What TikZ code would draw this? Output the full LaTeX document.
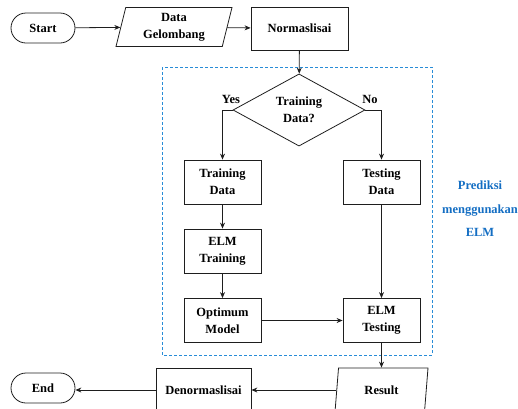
\documentclass[tikz,border=0pt]{standalone}
\usepackage{fontspec}
\setmainfont{Liberation Serif}[BoldFont={Liberation Serif Bold}]
\newfontfamily\tnr{Liberation Serif}[BoldFont={Liberation Serif Bold}]
\usetikzlibrary{shapes.geometric,arrows.meta}
\definecolor{lineblk}{RGB}{30,30,30}
\definecolor{dashblue}{RGB}{40,140,215}
\definecolor{textblue}{RGB}{20,110,195}
\tikzset{
  base/.style={draw=lineblk, line width=0.8pt, font=\tnr\fontsize{12.5}{17}\selectfont\bfseries, align=center, inner sep=1pt},
  procbox/.style={base, rectangle, minimum width=77pt, minimum height=44pt},
  termbox/.style={base, rectangle, rounded corners=15pt, minimum width=64pt, minimum height=30pt},
  iobox/.style={base, trapezium, trapezium left angle=72, trapezium right angle=108, trapezium stretches body, minimum height=39pt},
  decbox/.style={base, diamond, minimum width=132pt, minimum height=64pt, inner sep=0pt},
  conn/.style={draw=lineblk, line width=0.8pt, -{Stealth[length=6pt,width=5pt]}},
  lbl/.style={font=\tnr\fontsize{12.5}{15}\selectfont\bfseries}
}
\begin{document}
\begin{tikzpicture}[x=1pt,y=-1pt]
\useasboundingbox (0,0) rectangle (518,408);
\clip (0,0) rectangle (518,408);
\node[termbox] (start) at (43,28) {Start};
\node[iobox, minimum width=116pt] (data) at (174,27) {Data\\Gelombang};
\node[procbox, minimum width=97pt, minimum height=43pt] (norm) at (299.5,28.5) {Normaslisai};
\draw[dashblue, dashed, line width=0.8pt, dash pattern=on 3pt off 2pt] (162,67) rectangle (432,355);
\node[decbox] (dec) at (299,110) {Training\\Data?};
\node[procbox] (trd) at (222.5,182) {Training\\Data};
\node[procbox] (tsd) at (381.5,182) {Testing\\Data};
\node[procbox] (elmtr) at (222.5,251) {ELM\\Training};
\node[procbox] (opt) at (222.5,320.5) {Optimum\\Model};
\node[procbox] (elmts) at (381.5,320.5) {ELM\\Testing};
\node[iobox, minimum width=93pt, minimum height=44pt] (res) at (381.5,390) {Result};
\node[procbox, minimum width=95pt, minimum height=44pt] (denorm) at (203.5,390) {Denormaslisai};
\node[termbox] (end) at (43,388) {End};
\node[lbl] (yes) at (231,99) {Yes};
\node[lbl] (no) at (370,99) {No};
\node[text=textblue, align=center, font=\tnr\fontsize{12.5}{23.5}\selectfont\bfseries] (pred) at (480,209) {Prediksi\\menggunakan\\ELM};
\draw[conn] (start) -- (data);
\draw[conn] (data) -- (norm);
\draw[conn] (norm) -- (dec);
\draw[conn] (dec.west) -| (trd.north);
\draw[conn] (dec.east) -| (tsd.north);
\draw[conn] (trd) -- (elmtr);
\draw[conn] (elmtr) -- (opt);
\draw[conn] (opt) -- (elmts);
\draw[conn] (tsd) -- (elmts);
\draw[conn] (elmts) -- (res);
\draw[conn] (res.west |- denorm.east) -- (denorm.east);
\draw[conn] (denorm.west) -- (end.east |- denorm.west);
\end{tikzpicture}
\end{document}
